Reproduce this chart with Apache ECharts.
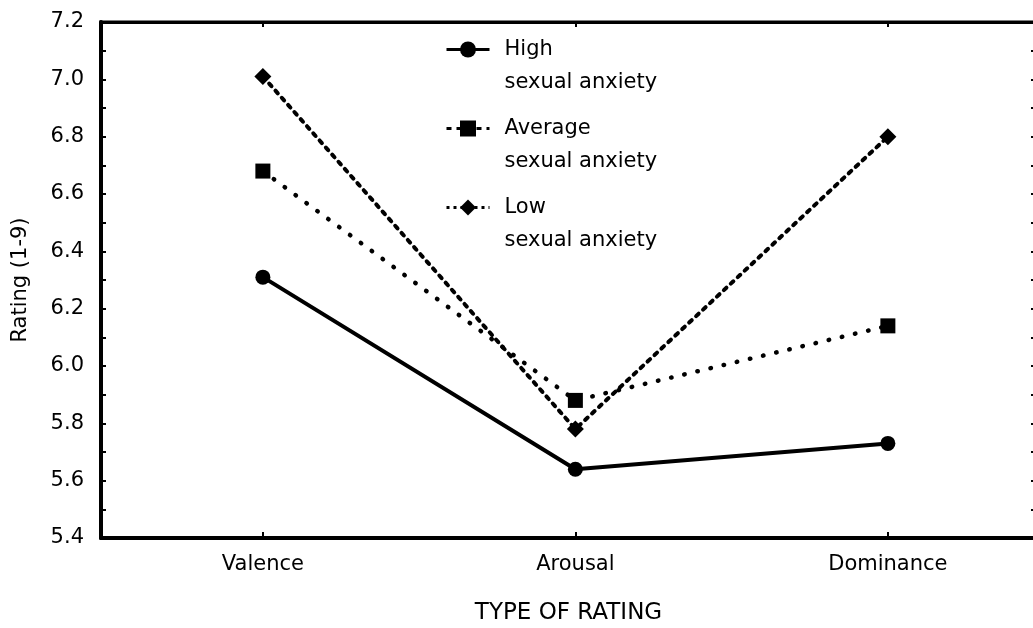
<!DOCTYPE html>
<html>
<head>
<meta charset="utf-8">
<script src="https://cdn.jsdelivr.net/npm/echarts@6/dist/echarts.min.js"></script>
<style>
  html, body { margin: 0; padding: 0; background: #fff; }
  #chart { width: 1033px; height: 628px; }
</style>
</head>
<body>
<div id="chart"></div>
<script>
// Mean ratings by type of rating, for three sexual-anxiety groups
const categories = ['Valence', 'Arousal', 'Dominance'];
const highAnxiety = [6.31, 5.64, 5.73];
const averageAnxiety = [6.68, 5.88, 6.14];
const lowAnxiety = [7.01, 5.78, 6.80];
const yTicks = [5.4, 5.6, 5.8, 6.0, 6.2, 6.4, 6.6, 6.8, 7.0, 7.2];

const FONT = 'DejaVu Sans';
const catIdx = categories.map((c, i) => i);
const pairs = vals => vals.map((v, i) => [i, v]);

const chart = echarts.init(document.getElementById('chart'));

const yBase = {
  type: 'value',
  min: yTicks[0],
  max: yTicks[yTicks.length - 1],
  interval: 0.2,
  splitLine: { show: false },
  axisLine: { show: true, onZero: false, lineStyle: { color: '#000', width: 4 } },
  axisTick: { show: true, inside: true, length: 5, lineStyle: { color: '#000', width: 2 } },
  minorTick: { show: true, splitNumber: 2, length: 5, lineStyle: { color: '#000', width: 2 } }
};

const xMin = -0.518, xMax = 2.474;

chart.setOption({
  backgroundColor: '#fff',
  animation: false,
  grid: {
    left: 101, top: 22, right: -3, bottom: 90,
    outerBoundsMode: 'none',
    show: true, borderColor: '#000', borderWidth: 3, backgroundColor: 'transparent'
  },
  legend: {
    orient: 'vertical',
    left: 445,
    top: 0,
    padding: 0,
    itemGap: -20,
    itemWidth: 43,
    itemHeight: 20,
    textStyle: {
      fontFamily: FONT, fontSize: 21, color: '#000', lineHeight: 33,
      rich: {
        t: { fontFamily: FONT, fontSize: 21, color: '#000', lineHeight: 33, padding: [0, 0, 0, 10] }
      }
    },
    // blank first row keeps the group name level with the icon
    formatter: name => '{t| }\n{t|' + name + '}\n{t|sexual anxiety}',
    data: [
      { name: 'High', lineStyle: { width: 3 } },
      { name: 'Average', lineStyle: { width: 3, type: [5, 5], cap: 'butt' } },
      { name: 'Low', lineStyle: { width: 3, type: [3, 4], cap: 'butt' } }
    ]
  },
  xAxis: [{
    type: 'value',
    min: xMin,
    max: xMax,
    splitLine: { show: false },
    axisLine: { show: true, onZero: false, lineStyle: { color: '#000', width: 4 } },
    axisTick: { show: true, inside: true, length: 6, customValues: catIdx, lineStyle: { color: '#000', width: 2 } },
    axisLabel: {
      customValues: catIdx,
      formatter: v => categories[Math.round(v)],
      fontFamily: FONT, fontSize: 21, color: '#000', margin: 16
    },
    name: 'TYPE OF RATING',
    nameLocation: 'middle',
    nameGap: 64,
    nameTextStyle: { fontFamily: FONT, fontSize: 23, color: '#000' }
  }, {
    type: 'value',
    position: 'top',
    min: xMin,
    max: xMax,
    splitLine: { show: false },
    axisLine: { show: true, onZero: false, lineStyle: { color: '#000', width: 3 } },
    axisTick: { show: true, inside: true, length: 5, customValues: catIdx, lineStyle: { color: '#000', width: 2 } },
    axisLabel: { show: false }
  }],
  yAxis: [Object.assign({}, yBase, {
    position: 'left',
    axisLabel: {
      fontFamily: FONT, fontSize: 21, color: '#000', margin: 17,
      formatter: v => v.toFixed(1)
    },
    name: 'Rating (1-9)',
    nameLocation: 'middle',
    nameGap: 70,
    nameTextStyle: { fontFamily: FONT, fontSize: 21, color: '#000' }
  }), Object.assign({}, yBase, {
    position: 'right',
    axisLabel: { show: false }
  })],
  series: [{
    name: 'High',
    type: 'line',
    data: pairs(highAnxiety),
    symbol: 'circle',
    symbolSize: 15,
    itemStyle: { color: '#000' },
    lineStyle: { color: '#000', width: 4, type: 'solid' }
  }, {
    name: 'Average',
    type: 'line',
    data: pairs(averageAnxiety),
    symbol: 'rect',
    symbolSize: 15,
    itemStyle: { color: '#000' },
    lineStyle: { color: '#000', width: 4.5, type: [0.5, 13], cap: 'round' }
  }, {
    name: 'Low',
    type: 'line',
    data: pairs(lowAnxiety),
    symbol: 'diamond',
    symbolSize: 17,
    itemStyle: { color: '#000' },
    lineStyle: { color: '#000', width: 4, type: [3.5, 6], cap: 'round' }
  }]
});
</script>
</body>
</html>
